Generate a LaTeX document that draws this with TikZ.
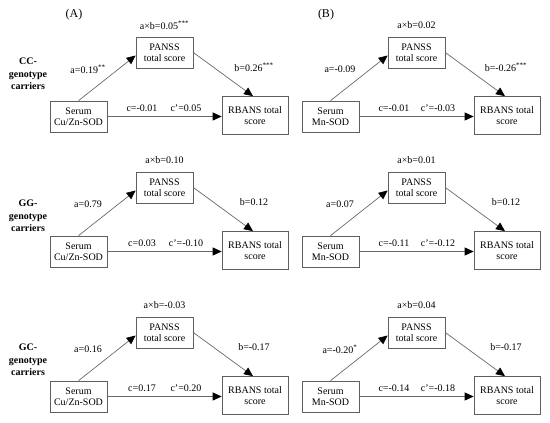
\documentclass[tikz,border=0pt]{standalone}
\usepackage{fontspec}
\setmainfont{Liberation Serif}
\usetikzlibrary{positioning,arrows.meta,calc}
\definecolor{boxc}{RGB}{95,95,95}
\definecolor{linec}{RGB}{105,105,105}
\tikzset{
  varbox/.style={draw=boxc, line width=0.7pt, align=center, inner sep=1pt,
    font=\fontsize{10}{11}\selectfont, minimum width=57pt, minimum height=31pt},
  outbox/.style={varbox, minimum width=66pt, minimum height=38pt},
  coef/.style={font=\fontsize{10}{12}\selectfont, inner sep=1pt},
  grp/.style={font=\bfseries\fontsize{10}{12.5}\selectfont, align=center},
  panlbl/.style={font=\fontsize{12}{14}\selectfont},
  medarrow/.style={draw=linec, line width=0.7pt,
    -{Triangle[length=9pt,width=8pt,color=black]}},
}
% #1 origin, #2 exposure, #3 axb, #4 a, #5 b, #6 c, #7 c'
\newcommand{\medpanel}[7]{%
  \node[varbox] (#1ser) at ($(#1)+(78.5,116.5)$) {Serum\\#2};
  \node[varbox] (#1pan) at ($(#1)+(164.5,52.5)$) {PANSS\\total score};
  \node[outbox] (#1rb)  at ($(#1)+(255,115.5)$) {RBANS total\\score};
  \node[coef] (#1ab) at ($(#1)+(164.5,25)$) {#3};
  \node[coef] (#1a)  at ($(#1)+(88,69)$) {#4};
  \node[coef] (#1b)  at ($(#1)+(254,67)$) {#5};
  \node[coef] (#1c)  at ($(#1)+(142,108)$) {#6};
  \node[coef] (#1cp) at ($(#1)+(186,108)$) {#7};
  \draw[medarrow] (#1ser.north) -- ([yshift=-3pt]#1pan.west);
  \draw[medarrow] (#1pan.east) -- ([xshift=-2pt]#1rb.north);
  \draw[medarrow] (#1ser.east) -- (#1ser.east -| #1rb.west);
}

\begin{document}
\begin{tikzpicture}[x=1pt, y=-1pt]
\useasboundingbox (0,0) rectangle (550,423);

\node[panlbl] (labA) at (74,15) {(A)};
\node[panlbl] (labB) at (326,15) {(B)};

% ------------------------------------------------- CC carriers
\coordinate (A1) at (0,0);
\coordinate (B1) at (252,0);
\node[grp] (grp1) at (28,74) {CC-\\genotype\\carriers};
\medpanel{A1}{Cu/Zn-SOD}{a×b=0.05\textsuperscript{***}}{a=0.19\textsuperscript{**}}
  {b=0.26\textsuperscript{***}}{c=-0.01}{c'=0.05}
\medpanel{B1}{Mn-SOD}{a×b=0.02}{a=-0.09}
  {b=-0.26\textsuperscript{***}}{c=-0.01}{c'=-0.03}

% ------------------------------------------------- GG carriers
\coordinate (A2) at (0,135);
\coordinate (B2) at (252,135);
\node[grp] (grp2) at (28,216) {GG-\\genotype\\carriers};
\medpanel{A2}{Cu/Zn-SOD}{a×b=0.10}{a=0.79}{b=0.12}{c=0.03}{c'=-0.10}
\medpanel{B2}{Mn-SOD}{a×b=0.01}{a=0.07}{b=0.12}{c=-0.11}{c'=-0.12}

% ------------------------------------------------- GC carriers
\coordinate (A3) at (0,280);
\coordinate (B3) at (252,280);
\node[grp] (grp3) at (28,360) {GC-\\genotype\\carriers};
\medpanel{A3}{Cu/Zn-SOD}{a×b=-0.03}{a=0.16}{b=-0.17}{c=0.17}{c'=0.20}
\medpanel{B3}{Mn-SOD}{a×b=0.04}{a=-0.20\textsuperscript{*}}{b=-0.17}{c=-0.14}{c'=-0.18}

\end{tikzpicture}
\end{document}
